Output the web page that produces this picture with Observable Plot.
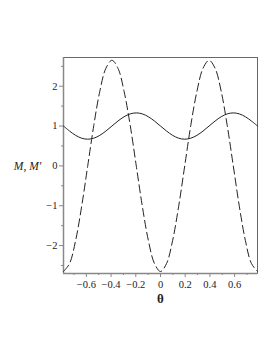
<!DOCTYPE html>
<html><head><meta charset="utf-8">
<script src="https://cdn.jsdelivr.net/npm/d3@7"></script>
<script src="https://cdn.jsdelivr.net/npm/@observablehq/plot@0.6"></script>
<style>body{margin:0;background:#fff} svg text{font-family:"Liberation Serif","Times New Roman",serif !important}</style>
</head><body><div id="chart"></div>
<script>
const theta = [-0.785,-0.736,-0.687,-0.638,-0.589,-0.540,-0.491,-0.442,-0.393,-0.344,-0.295,-0.245,-0.196,-0.147,-0.098,-0.049,0,0.049,0.098,0.147,0.196,0.245,0.295,0.344,0.393,0.442,0.491,0.540,0.589,0.638,0.687,0.736,0.785];
const M = [1,0.874,0.767,0.695,0.67,0.695,0.767,0.874,1,1.126,1.233,1.305,1.33,1.305,1.233,1.126,1,0.874,0.767,0.695,0.67,0.695,0.767,0.874,1,1.126,1.233,1.305,1.33,1.305,1.233,1.126,1];
const Mp = [-2.65,-2.449,-1.874,-1.015,0,1.015,1.874,2.449,2.65,2.449,1.874,1.015,0,-1.015,-1.874,-2.449,-2.65,-2.449,-1.874,-1.015,0,1.015,1.874,2.449,2.65,2.449,1.874,1.015,0,-1.015,-1.874,-2.449,-2.65];
const xTicks = [-0.6,-0.4,-0.2,0,0.2,0.4,0.6];
const xMinor = [-0.7,-0.5,-0.3,-0.1,0.1,0.3,0.5,0.7];
const yTicks = [-2,-1,0,1,2];
const yMinor = [-2.5,-1.5,-0.5,0.5,1.5,2.5];
const xDomain = [-0.785, 0.785];
const yDomain = [-2.7, 2.72];

const rowsM = theta.map((t,i)=>({t, v:M[i]}));
const rowsMp = theta.map((t,i)=>({t, v:Mp[i]}));
const fmt = d => String(d).replace("-", "\u2212");

const chart = Plot.plot({
  width: 277, height: 358,
  marginLeft: 63, marginRight: 20, marginTop: 57, marginBottom: 85,
  style: {fontFamily: "'Liberation Serif', serif", fontSize: "10px", color: "#222", background: "#fff"},
  x: {type: "linear", domain: xDomain, axis: null},
  y: {type: "linear", domain: yDomain, axis: null},
  marks: [
    Plot.frame({stroke: "#444", strokeWidth: 0.8}),
    Plot.ruleY([yDomain[0]], {stroke: "#888", strokeWidth: 1.5}),
    Plot.ruleX([xDomain[0]], {stroke: "#888", strokeWidth: 1.5}),
    Plot.axisX({ticks: xTicks, tickSize: 4, tickPadding: 3, stroke: "#888", tickFormat: fmt, label: null, fontSize: 10.5}),
    Plot.axisX({ticks: xMinor, tickSize: 2, tickFormat: () => "", stroke: "#888", label: null}),
    Plot.axisY({ticks: yTicks, tickSize: 4, tickPadding: 2, stroke: "#888", tickFormat: fmt, label: null, fontSize: 10.5}),
    Plot.axisY({ticks: yMinor, tickSize: 2, tickFormat: () => "", stroke: "#888", label: null}),
    Plot.line(rowsMp, {x: "t", y: "v", curve: "catmull-rom", stroke: "#222", strokeWidth: 1, strokeDasharray: "8,4"}),
    Plot.line(rowsM, {x: "t", y: "v", curve: "catmull-rom", stroke: "#222", strokeWidth: 1}),
    Plot.text(["M, M'"], {x: xDomain[0], y: 0, dx: -36, textAnchor: "middle", fontStyle: "italic", fontSize: 11.5}),
    Plot.text(["\u03b8"], {x: 0, y: yDomain[0], dy: 25, fontWeight: "bold", fontSize: 13})
  ]
});
document.getElementById("chart").append(chart);
</script>
</body></html>
